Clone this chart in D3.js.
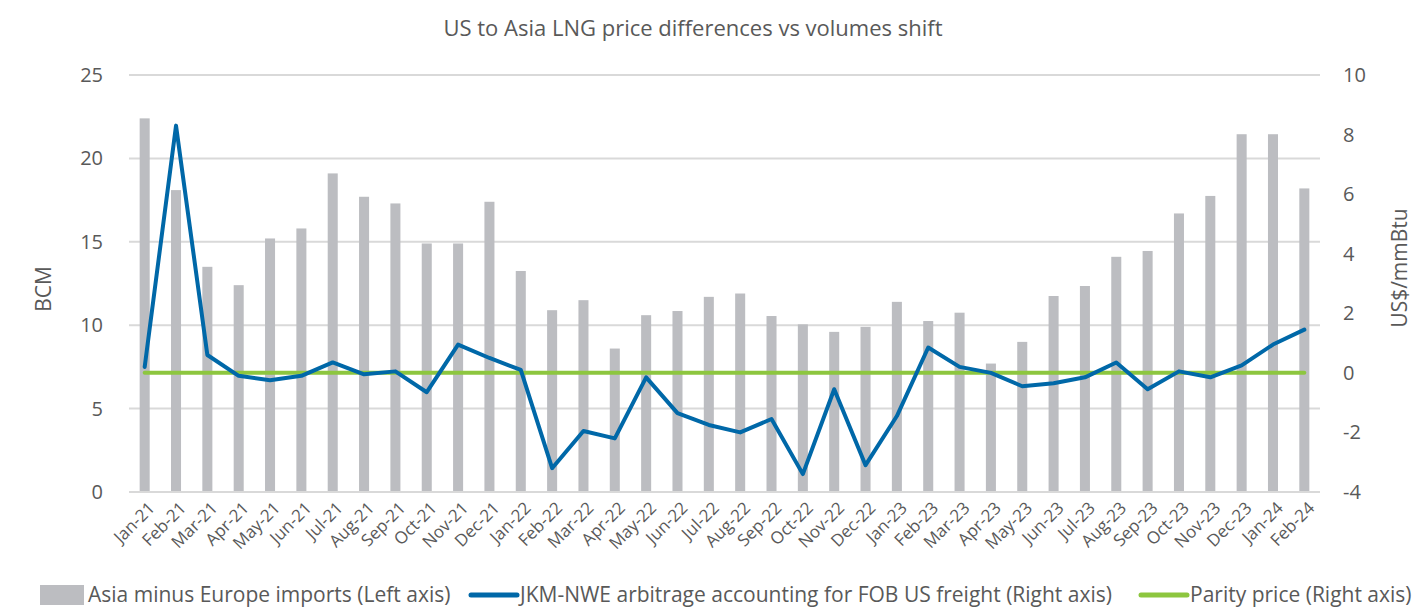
<!DOCTYPE html>
<html>
<head>
<meta charset="utf-8">
<script src="https://cdn.jsdelivr.net/npm/d3@7"></script>
<style>
  body { margin: 0; background: #fff; }
  text { font-family: "Open Sans", sans-serif; fill: #595959; }
</style>
</head>
<body>
<svg id="chart" width="1412" height="607"></svg>
<script>
const months = ["Jan-21","Feb-21","Mar-21","Apr-21","May-21","Jun-21","Jul-21","Aug-21","Sep-21","Oct-21","Nov-21","Dec-21",
  "Jan-22","Feb-22","Mar-22","Apr-22","May-22","Jun-22","Jul-22","Aug-22","Sep-22","Oct-22","Nov-22","Dec-22",
  "Jan-23","Feb-23","Mar-23","Apr-23","May-23","Jun-23","Jul-23","Aug-23","Sep-23","Oct-23","Nov-23","Dec-23",
  "Jan-24","Feb-24"];

// Asia minus Europe imports, BCM (left axis)
const imports = [22.4, 18.1, 13.5, 12.4, 15.2, 15.8, 19.1, 17.7, 17.3, 14.9, 14.9, 17.4,
  13.25, 10.9, 11.5, 8.6, 10.6, 10.85, 11.7, 11.9, 10.55, 10.05, 9.6, 9.9,
  11.4, 10.25, 10.75, 7.7, 9.0, 11.75, 12.35, 14.1, 14.45, 16.7, 17.75, 21.45,
  21.45, 18.2];

// JKM-NWE arbitrage, US$/mmBtu (right axis)
const arbitrage = [0.2, 8.3, 0.6, -0.1, -0.25, -0.1, 0.35, -0.05, 0.05, -0.65, 0.95, 0.5,
  0.1, -3.2, -1.95, -2.2, -0.15, -1.35, -1.75, -2.0, -1.55, -3.4, -0.55, -3.1,
  -1.45, 0.85, 0.2, 0.0, -0.45, -0.35, -0.15, 0.35, -0.55, 0.05, -0.15, 0.25,
  0.95, 1.45];

const parity = 0;

const leftTicks = [0, 5, 10, 15, 20, 25];
const rightTicks = [-4, -2, 0, 2, 4, 6, 8, 10];

const svg = d3.select("#chart");
const plotLeft = 129, plotRight = 1320, plotTop = 75, plotBottom = 492;

const x = d3.scaleBand().domain(months).range([plotLeft, plotRight]).paddingInner(0.68).paddingOuter(0.34);
const yL = d3.scaleLinear().domain([0, 25]).range([plotBottom, plotTop]);
const yR = d3.scaleLinear().domain([-4, 10]).range([plotBottom, plotTop]);
const cx = d => x(d) + x.bandwidth() / 2;

// Title
svg.append("text")
  .attr("x", 693).attr("y", 36)
  .attr("text-anchor", "middle")
  .style("font-size", "22px")
  .text("US to Asia LNG price differences vs volumes shift");

// Gridlines
svg.append("g").selectAll("line")
  .data(leftTicks)
  .join("line")
  .attr("x1", plotLeft).attr("x2", plotRight)
  .attr("y1", d => yL(d)).attr("y2", d => yL(d))
  .attr("stroke", "#d9d9d9").attr("stroke-width", 2);

// Left axis labels
svg.append("g").selectAll("text")
  .data(leftTicks)
  .join("text")
  .attr("x", 103).attr("y", d => yL(d))
  .attr("dy", "0.35em")
  .attr("text-anchor", "end")
  .style("font-size", "20px")
  .text(d => d);

// Right axis labels
svg.append("g").selectAll("text")
  .data(rightTicks)
  .join("text")
  .attr("x", 1343).attr("y", d => yR(d))
  .attr("dy", "0.35em")
  .attr("text-anchor", "start")
  .style("font-size", "20px")
  .text(d => d);

// Axis titles
svg.append("text")
  .attr("transform", "translate(51,289) rotate(-90)")
  .attr("text-anchor", "middle")
  .style("font-size", "21px")
  .text("BCM");

svg.append("text")
  .attr("transform", "translate(1407,268) rotate(-90)")
  .attr("text-anchor", "middle")
  .style("font-size", "21px")
  .text("US$/mmBtu");

// Bars
svg.append("g").selectAll("rect")
  .data(months)
  .join("rect")
  .attr("x", d => x(d))
  .attr("width", x.bandwidth())
  .attr("y", (d, i) => yL(imports[i]))
  .attr("height", (d, i) => plotBottom - yL(imports[i]))
  .attr("fill", "#bcbdc1");

// Bottom axis line
svg.append("line")
  .attr("x1", plotLeft).attr("x2", plotRight)
  .attr("y1", plotBottom).attr("y2", plotBottom)
  .attr("stroke", "#d9d9d9").attr("stroke-width", 2);

// Parity line
svg.append("line")
  .attr("x1", cx(months[0])).attr("x2", cx(months[months.length - 1]))
  .attr("y1", yR(parity)).attr("y2", yR(parity))
  .attr("stroke", "#8dc63f").attr("stroke-width", 4)
  .attr("stroke-linecap", "round");

// Arbitrage line
const line = d3.line()
  .x((d, i) => cx(months[i]))
  .y(d => yR(d));

svg.append("path")
  .datum(arbitrage)
  .attr("d", line)
  .attr("fill", "none")
  .attr("stroke", "#0068a8")
  .attr("stroke-width", 4)
  .attr("stroke-linejoin", "round")
  .attr("stroke-linecap", "round");

// X labels
svg.append("g").selectAll("text")
  .data(months)
  .join("text")
  .attr("transform", d => `translate(${cx(d) + 7},${plotBottom + 13}) rotate(-45)`)
  .attr("text-anchor", "end")
  .attr("dy", "0.35em")
  .style("font-size", "17px")
  .text(d => d);

// Legend
const legend = svg.append("g").attr("transform", "translate(0,595)");
legend.append("rect").attr("x", 40).attr("y", -10).attr("width", 44).attr("height", 20).attr("fill", "#bcbdc1");
legend.append("text").attr("x", 88).attr("dy", "0.35em").style("font-size", "21px")
  .text("Asia minus Europe imports (Left axis)");
legend.append("line").attr("x1", 471).attr("x2", 517).attr("y1", 0).attr("y2", 0)
  .attr("stroke", "#0068a8").attr("stroke-width", 5).attr("stroke-linecap", "round");
legend.append("text").attr("x", 520).attr("dy", "0.35em").style("font-size", "21px")
  .text("JKM-NWE arbitrage accounting for FOB US freight (Right axis)");
legend.append("line").attr("x1", 1141).attr("x2", 1187).attr("y1", 0).attr("y2", 0)
  .attr("stroke", "#8dc63f").attr("stroke-width", 5).attr("stroke-linecap", "round");
legend.append("text").attr("x", 1190).attr("dy", "0.35em").style("font-size", "21px")
  .text("Parity price (Right axis)");
</script>
</body>
</html>
